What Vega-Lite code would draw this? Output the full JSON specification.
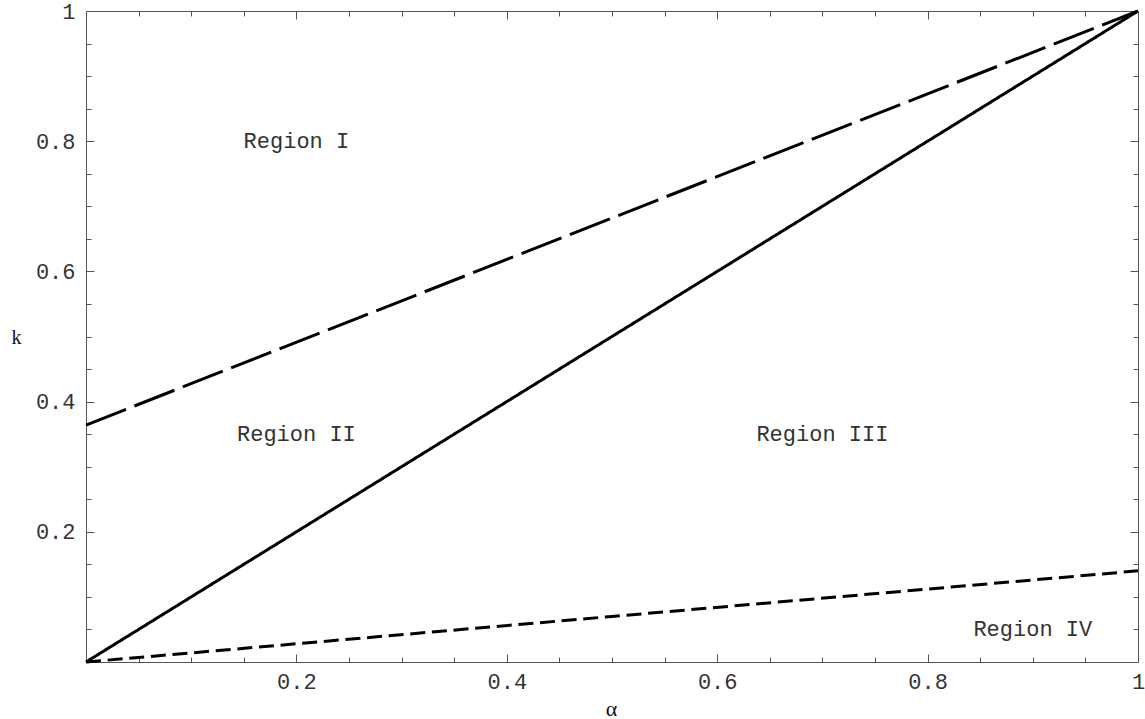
{
  "$schema": "https://vega.github.io/schema/vega-lite/v6.json",
  "width": 1052,
  "height": 651,
  "autosize": {"type": "none"},
  "padding": {"left": 86, "top": 11, "right": 7, "bottom": 57},
  "background": "white",
  "view": {"stroke": "#555555", "strokeWidth": 1},
  "layer": [
    {
      "data": {"values": [
        {"curve": "solid", "alpha": 0, "k": 0},
        {"curve": "solid", "alpha": 0.5, "k": 0.5},
        {"curve": "solid", "alpha": 1, "k": 1},
        {"curve": "long", "alpha": 0, "k": 0.364},
        {"curve": "long", "alpha": 0.5, "k": 0.682},
        {"curve": "long", "alpha": 1, "k": 1},
        {"curve": "short", "alpha": 0, "k": 0},
        {"curve": "short", "alpha": 0.5, "k": 0.07},
        {"curve": "short", "alpha": 1, "k": 0.14}
      ]},
      "mark": {"type": "line", "color": "black", "strokeWidth": 3, "strokeCap": "butt"},
      "encoding": {
        "x": {
          "field": "alpha", "type": "quantitative",
          "scale": {"domain": [0, 1], "nice": false, "zero": false},
          "axis": {
            "orient": "bottom",
            "values": [0.05, 0.1, 0.15, 0.2, 0.25, 0.3, 0.35, 0.4, 0.45, 0.5, 0.55, 0.6, 0.65, 0.7, 0.75, 0.8, 0.85, 0.9, 0.95, 1],
            "labelExpr": "abs(datum.value*5 - round(datum.value*5)) < 0.001 ? '' + datum.value : ''",
            "tickSize": {"condition": {"test": "abs(datum.value*5 - round(datum.value*5)) < 0.001", "value": -8}, "value": -5},
            "labelPadding": 17,
            "domain": false, "grid": false,
            "tickColor": "#555555", "tickWidth": 1,
            "labelFont": "Liberation Mono", "labelFontSize": 22, "labelColor": "#333333",
            "labelFlush": false, "labelOverlap": false, "labelBaseline": "top",
            "title": "α", "titleFont": "Liberation Serif", "titleFontSize": 22, "titleFontWeight": "normal", "titleColor": "#111111",
            "titleBaseline": "alphabetic", "titleY": 53, "titleX": 525, "titleAlign": "center"
          }
        },
        "y": {
          "field": "k", "type": "quantitative",
          "scale": {"domain": [0, 1], "nice": false, "zero": false},
          "axis": {
            "orient": "left",
            "values": [0.05, 0.1, 0.15, 0.2, 0.25, 0.3, 0.35, 0.4, 0.45, 0.5, 0.55, 0.6, 0.65, 0.7, 0.75, 0.8, 0.85, 0.9, 0.95, 1],
            "labelExpr": "abs(datum.value*5 - round(datum.value*5)) < 0.001 ? '' + datum.value : ''",
            "tickSize": {"condition": {"test": "abs(datum.value*5 - round(datum.value*5)) < 0.001", "value": -8}, "value": -5},
            "labelPadding": 19,
            "domain": false, "grid": false,
            "tickColor": "#555555", "tickWidth": 1,
            "labelFont": "Liberation Mono", "labelFontSize": 22, "labelColor": "#333333",
            "labelFlush": false, "labelOverlap": false, "labelBaseline": "middle",
            "title": "k", "titleFont": "Liberation Serif", "titleFontSize": 20, "titleFontWeight": "normal", "titleColor": "#111111",
            "titleAngle": 0, "titleAlign": "center", "titleBaseline": "alphabetic", "titleX": -70, "titleY": 332
          }
        },
        "detail": {"field": "curve"},
        "strokeDash": {
          "field": "curve", "type": "nominal",
          "scale": {"domain": ["solid", "long", "short"], "range": [[1, 0], [43, 9], [15, 6.7]]},
          "legend": null
        }
      }
    },
    {
      "data": {"values": [
        {"label": "Region I", "alpha": 0.2, "k": 0.8},
        {"label": "Region II", "alpha": 0.2, "k": 0.35},
        {"label": "Region III", "alpha": 0.7, "k": 0.35},
        {"label": "Region IV", "alpha": 0.9, "k": 0.05}
      ]},
      "mark": {"type": "text", "font": "Liberation Mono", "fontSize": 22, "color": "#333333", "align": "center", "baseline": "middle"},
      "encoding": {
        "x": {
          "field": "alpha", "type": "quantitative",
          "scale": {"domain": [0, 1], "nice": false, "zero": false},
          "axis": {
            "orient": "top",
            "values": [0.05, 0.1, 0.15, 0.2, 0.25, 0.3, 0.35, 0.4, 0.45, 0.5, 0.55, 0.6, 0.65, 0.7, 0.75, 0.8, 0.85, 0.9, 0.95],
            "labels": false, "title": null, "domain": false, "grid": false,
            "tickColor": "#555555", "tickWidth": 1,
            "tickSize": {"condition": {"test": "abs(datum.value*5 - round(datum.value*5)) < 0.001", "value": -8}, "value": -5}
          }
        },
        "y": {
          "field": "k", "type": "quantitative",
          "scale": {"domain": [0, 1], "nice": false, "zero": false},
          "axis": {
            "orient": "right",
            "values": [0.05, 0.1, 0.15, 0.2, 0.25, 0.3, 0.35, 0.4, 0.45, 0.5, 0.55, 0.6, 0.65, 0.7, 0.75, 0.8, 0.85, 0.9, 0.95],
            "labels": false, "title": null, "domain": false, "grid": false,
            "tickColor": "#555555", "tickWidth": 1,
            "tickSize": {"condition": {"test": "abs(datum.value*5 - round(datum.value*5)) < 0.001", "value": -8}, "value": -5}
          }
        },
        "text": {"field": "label", "type": "nominal"}
      }
    }
  ],
  "resolve": {"axis": {"x": "independent", "y": "independent"}}
}
